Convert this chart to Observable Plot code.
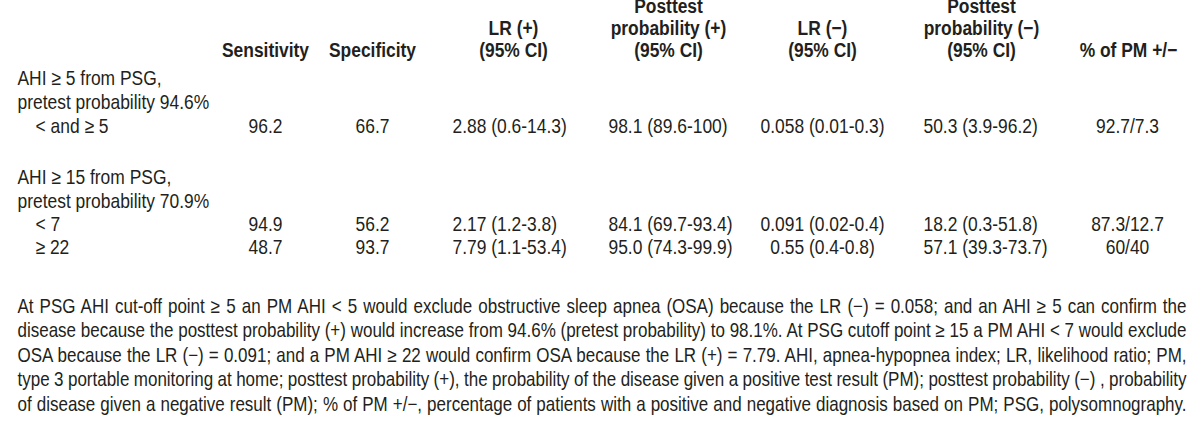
<!DOCTYPE html>
<html><head><meta charset="utf-8">
<script src="https://cdn.jsdelivr.net/npm/d3@7"></script>
<script src="https://cdn.jsdelivr.net/npm/@observablehq/plot@0.6"></script>
<style>
body{margin:0;background:#fff}
svg{display:block}
</style>
</head><body><div id="chart"></div>
<script>
// ---- data ----
const headers = [
  ["Sensitivity"],
  ["Specificity"],
  ["LR (+)", "(95% CI)"],
  ["Posttest", "probability (+)", "(95% CI)"],
  ["LR (−)", "(95% CI)"],
  ["Posttest", "probability (−)", "(95% CI)"],
  ["% of PM +/−"]
];
const groupLabels = [
  ["AHI ≥ 5 from PSG,", "pretest probability 94.6%"],
  ["AHI ≥ 15 from PSG,", "pretest probability 70.9%"]
];
const cutoffs = ["< and ≥ 5", "< 7", "≥ 22"];
const sensitivity = ["96.2", "94.9", "48.7"];
const specificity = ["66.7", "56.2", "93.7"];
const lrPositive = ["2.88 (0.6-14.3)", "2.17 (1.2-3.8)", "7.79 (1.1-53.4)"];
const postPositive = ["98.1 (89.6-100)", "84.1 (69.7-93.4)", "95.0 (74.3-99.9)"];
const lrNegative = ["0.058 (0.01-0.3)", "0.091 (0.02-0.4)", "0.55 (0.4-0.8)"];
const postNegative = ["50.3 (3.9-96.2)", "18.2 (0.3-51.8)", "57.1 (39.3-73.7)"];
const pmPosNeg = ["92.7/7.3", "87.3/12.7", "60/40"];
const footnote = [
  "At PSG AHI cut-off point ≥ 5 an PM AHI < 5 would exclude obstructive sleep apnea (OSA) because the LR (−) = 0.058; and an AHI ≥ 5 can confirm the",
  "disease because the posttest probability (+) would increase from 94.6% (pretest probability) to 98.1%. At PSG cutoff point ≥ 15 a PM AHI < 7 would exclude",
  "OSA because the LR (−) = 0.091; and a PM AHI ≥ 22 would confirm OSA because the LR (+) = 7.79. AHI, apnea-hypopnea index; LR, likelihood ratio; PM,",
  "type 3 portable monitoring at home; posttest probability (+), the probability of the disease given a positive test result (PM); posttest probability (−) , probability",
  "of disease given a negative result (PM); % of PM +/−, percentage of patients with a positive and negative diagnosis based on PM; PSG, polysomnography."
];

// ---- layout (positions in the table grid) ----
const W = 1200, H = 424;
const FONT = "'Liberation Sans',Arial,Helvetica,sans-serif";
const SQUEEZE = 0.85; // narrow (condensed) face
const FS = 20.5, FOOT_FS = 20;
const headX = [265, 372, 513, 668, 822, 981, 1128];
const headLineY = [12.5, 34.5, 56.5];
const valueX = [265, 372, 452, 608, 822, 923, 1127];
const valueAnchor = ["middle", "middle", "start", "start", "middle", "start", "middle"];
const groupY = [[84, 108], [183, 207]];
const rowY = [132, 230, 253];
const labelX = 17, cutX = 35;
const footY = [312, 336.5, 361, 385.5, 410];
const footRight = 1186;
const textColor = "#231f20";

// build tables
const headerCells = [];
headers.forEach((lines, c) => {
  const off = 3 - lines.length;
  lines.forEach((t, i) => headerCells.push({text: t, x: headX[c], y: headLineY[off + i]}));
});
const labelCells = [];
groupLabels.forEach((lines, g) => lines.forEach((t, i) => labelCells.push({text: t, x: labelX, y: groupY[g][i]})));
cutoffs.forEach((t, r) => labelCells.push({text: t, x: cutX, y: rowY[r]}));
const cols = [sensitivity, specificity, lrPositive, postPositive, lrNegative, postNegative, pmPosNeg];
const valueMarks = cols.map((vals, c) =>
  Plot.text(vals.map((v, r) => ({text: v, x: valueX[c], y: rowY[r]})), {
    x: "x", y: "y", text: "text", textAnchor: valueAnchor[c], fill: textColor, fontSize: FS
  })
);
const footCells = footnote.map((t, i) => ({text: t, x: labelX, y: footY[i]}));

const svg = Plot.plot({
  width: W, height: H,
  margin: 0,
  style: {fontFamily: FONT, background: "#fff", color: textColor},
  x: {domain: [0, W], range: [0, W], axis: null},
  y: {domain: [0, H], range: [0, H], axis: null},
  marks: [
    Plot.text(headerCells, {x: "x", y: "y", text: "text", fontWeight: "bold", fill: textColor, fontSize: FS}),
    Plot.text(labelCells, {x: "x", y: "y", text: "text", textAnchor: "start", fill: textColor, fontSize: FS}),
    ...valueMarks,
    Plot.text(footCells, {x: "x", y: "y", text: "text", textAnchor: "start", fill: textColor, fontSize: FOOT_FS})
  ]
});
document.getElementById("chart").appendChild(svg);

// condense every text horizontally about its anchor point
d3.select(svg).selectAll("text").each(function() {
  let t = this.getAttribute("transform") || "";
  const x = this.getAttribute("x"), y = this.getAttribute("y");
  if (x != null || y != null) {
    t += ` translate(${+x || 0},${+y || 0})`;
    this.removeAttribute("x"); this.removeAttribute("y");
  }
  this.setAttribute("transform", `${t} scale(${SQUEEZE},1)`.trim());
});

// justify footnote lines to the table width
d3.select(svg).selectAll("text").filter(function() { return footnote.includes(this.textContent); }).each(function() {
  const len = this.getComputedTextLength();
  const spaces = (this.textContent.match(/ /g) || []).length;
  const target = (footRight - labelX) / SQUEEZE;
  if (spaces > 0) {
    const ws = ((target - len) / spaces).toFixed(3);
    this.setAttribute("word-spacing", ws);
    this.style.wordSpacing = ws + "px";
  }
});
</script>
</body></html>
